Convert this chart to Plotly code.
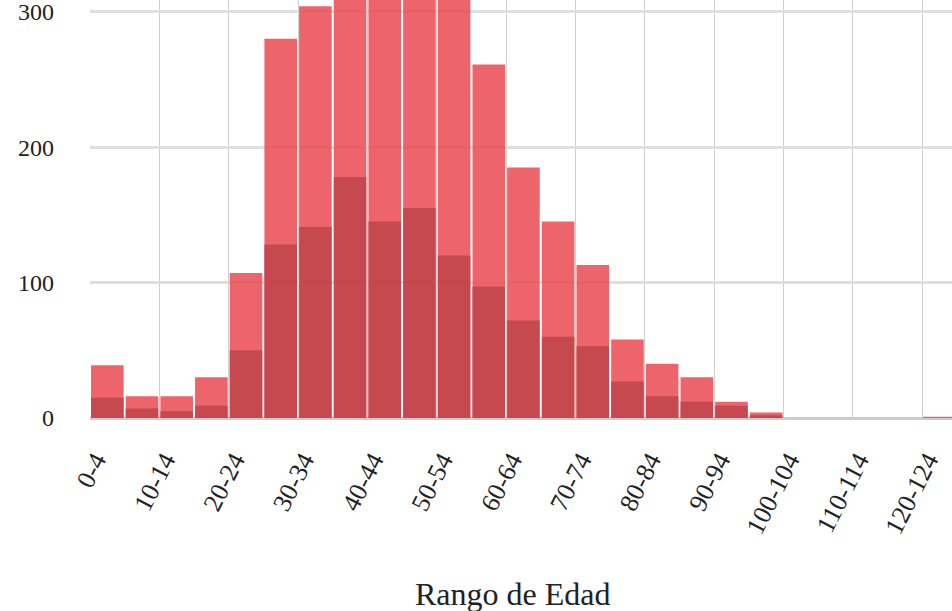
import plotly.graph_objects as go

categories = ["0-4", "5-9", "10-14", "15-19", "20-24", "25-29", "30-34", "35-39",
              "40-44", "45-49", "50-54", "55-59", "60-64", "65-69", "70-74", "75-79",
              "80-84", "85-89", "90-94", "95-99", "100-104", "105-109", "110-114",
              "115-119", "120-124"]

total_values = [39, 16, 16, 30, 107, 280, 304, 330, 345, 335, 320, 261, 185, 145,
                113, 58, 40, 30, 12, 4, 0, 0, 0, 0, 1]

subset_values = [15, 7, 5, 9, 50, 128, 141, 178, 145, 155, 120, 97, 72, 60,
                 53, 27, 16, 12, 9, 2, 0, 0, 0, 0, 0]

y_ticks = [0, 100, 200, 300]

light_red = "rgba(234, 80, 86, 0.88)"
dark_red = "rgba(192, 70, 76, 0.90)"
font_family = "Liberation Serif, Times New Roman, serif"

fig = go.Figure()
fig.add_trace(go.Bar(x=categories, y=total_values, marker_color=light_red,
                     marker_line_width=0, showlegend=False))
fig.add_trace(go.Bar(x=categories, y=subset_values, marker_color=dark_red,
                     marker_line_width=0, showlegend=False))

plot_h = 611 - 193.3
fig.update_layout(
    width=952, height=611,
    margin=dict(l=90, r=0, t=0, b=193.3, pad=0),
    barmode="overlay", bargap=0.06,
    plot_bgcolor="white", paper_bgcolor="white",
    font=dict(family=font_family, color="#222"),
    xaxis=dict(
        type="category", range=[-0.5, 24.36], tickson="boundaries", dtick=2,
        showgrid=True, gridcolor="#d0d0d0", gridwidth=1.3,
        tickangle=-63, tickfont=dict(size=26, family=font_family),
        ticks="", showline=False, automargin=False, ticklabelstandoff=21,
        ticklabelshift=-12, ticklabeloverflow="allow",
    ),
    yaxis=dict(
        range=[0, 308.6], tickvals=y_ticks, showgrid=True, gridcolor="#dedede",
        gridwidth=2.5, zeroline=True, zerolinecolor="#cccccc", zerolinewidth=2.5,
        tickfont=dict(size=24, family=font_family), ticks="", showline=False,
        automargin=False, ticklabelstandoff=35, ticklabeloverflow="allow",
    ),
    annotations=[dict(
        text="Rango de Edad", xref="paper", yref="paper",
        x=(513 - 90) / 862, y=-(594 - plot_h) / plot_h,
        xanchor="center", yanchor="middle", showarrow=False,
        font=dict(size=32, family=font_family, color="#222"),
    )],
)

fig.write_html("out.html", post_script="document.body.style.margin='0';",
               config={"displayModeBar": False})
